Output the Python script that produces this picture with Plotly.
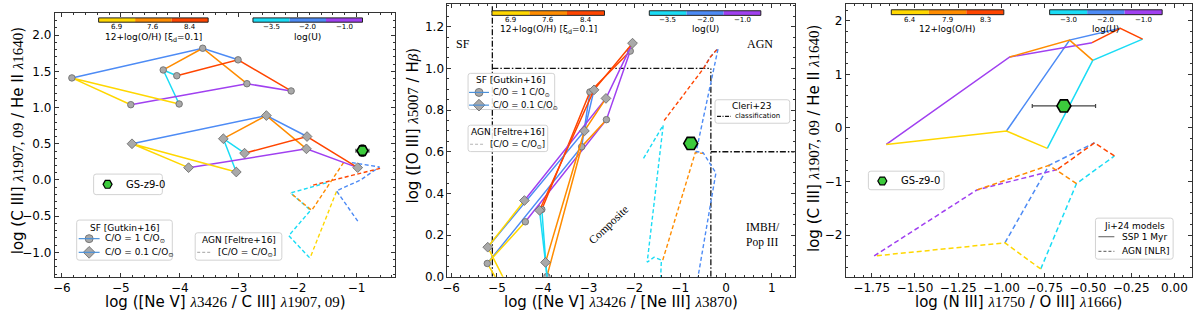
import plotly.graph_objects as go

W, H = 1200, 319
SANS = "DejaVu Sans"
SERIF = "Liberation Serif"

# ---------------- colours of the model grids ----------------
Z_COLORS = ["#FFD700", "#FF8C00", "#FF4500"]   # 12+log(O/H): low, mid, high
U_COLORS = ["#1ADCF5", "#4D8BF5", "#A040F0"]   # log(U): low, mid, high

# ---------------- data ----------------
# Gutkin+16 SF grids. rows: 12+log(O/H) = 6.9, 7.6, 8.4 ; columns: log(U) = -3.5, -2.0, -1.0
OH_LABELS_SF = ["6.9", "7.6", "8.4"]
U_LABELS_SF = ["\u22123.5", "\u22122.0", "\u22121.0"]

# Panel 1: x = log([NeV]/CIII]), y = log(CIII]/HeII)
p1_co1_x = [[-4.01, -5.83, -4.83], [-4.28, -3.61, -2.86], [-4.05, -3.01, -2.11]]
p1_co1_y = [[1.05, 1.41, 1.04], [1.52, 1.82, 1.33], [1.44, 1.66, 1.23]]
p1_co01_x = [[-3.04, -4.81, -3.85], [-3.26, -2.53, -1.85], [-2.90, -1.84, -0.98]]
p1_co01_y = [[0.11, 0.50, 0.17], [0.57, 0.89, 0.43], [0.37, 0.60, 0.17]]

# Feltre+16 AGN tracks, panel 1
p1_agn_red_x = [-0.60, -1.78]
p1_agn_red_y = [0.16, -0.08]
p1_agn_cyan_x = [-1.51, -2.12, -1.78, -2.15, -1.79]
p1_agn_cyan_y = [-0.04, -0.18, -0.42, -0.77, -1.08]
p1_agn_orange_x = [-1.22, -1.76, -2.12]
p1_agn_orange_y = [0.24, -0.42, -0.18]
p1_agn_yellow_x = [-1.34, -1.79]
p1_agn_yellow_y = [-0.16, -1.08]
p1_agn_blue_x = [-1.08, -0.61, -0.93, -1.34, -0.97]
p1_agn_blue_y = [0.24, 0.18, 0.00, -0.15, -0.58]

# Panel 2: x = log([NeV]/[NeIII]), y = log([OIII]/Hb)
p2_co1_x = [[-3.70, -5.21, -4.38], [-3.91, -3.15, -2.61], [-4.02, -2.97, -2.09]]
p2_co1_y = [[-0.50, 0.064, 0.264], [0.001, 0.624, 0.754], [0.323, 0.887, 1.083]]
p2_co01_x = [[-3.62, -5.20, -4.40], [-3.94, -3.09, -2.62], [-4.07, -2.88, -2.04]]
p2_co01_y = [[-0.54, 0.142, 0.366], [0.069, 0.700, 0.856], [0.319, 0.897, 1.121]]

p2_agn_red_x = [-1.35, -0.49, -0.34, -0.17]
p2_agn_red_y = [0.75, 1.00, 1.055, 1.097]
p2_agn_cyan_x = [-1.80, -1.37, -1.72, -1.57, -1.41, -1.44]
p2_agn_cyan_y = [0.568, 0.728, 0.070, 0.094, 0.080, -0.08]
p2_agn_orange_x = [-1.38, -0.67, -0.50]
p2_agn_orange_y = [0.080, 0.596, 0.592]
p2_agn_blue_x = [-0.49, -0.34, -0.17, -0.65, -0.50, -0.22, -0.61, -0.65]
p2_agn_blue_y = [1.00, 1.055, 1.097, 0.601, 0.596, 0.498, 0.0, -0.08]

# Cleri+23 classification boundaries
cleri_sf_x = -5.1
cleri_agn_x = -0.33
cleri_agn_y = 1.0
cleri_imbh_y = 0.6

# Panel 3: Ji+24 models. rows: 12+log(O/H) = 6.4, 7.9, 8.3 ; columns: log(U) = -3.0, -2.0, -1.0
OH_LABELS_JI = ["6.4", "7.9", "8.3"]
U_LABELS_JI = ["\u22123.0", "\u22122.0", "\u22121.0"]
p3_ssp_x = [[-0.735, -0.971, -1.666], [-0.472, -0.606, -0.952], [-0.184, -0.313, -0.476]]
p3_ssp_y = [[-0.382, -0.058, -0.309], [1.262, 1.640, 1.324], [1.658, 1.859, 1.591]]
p3_agn_x = [[-0.773, -0.980, -1.736], [-0.566, -0.725, -1.143], [-0.347, -0.462, -0.677]]
p3_agn_y = [[-2.634, -2.146, -2.391], [-1.039, -0.698, -1.160], [-0.524, -0.278, -0.776]]

# GS-z9-0 measurements
gs_p1 = dict(x=-0.90, y=0.405, ex=0.11, ey=0.08)
gs_p2 = dict(x=-0.77, y=0.640)
gs_p3 = dict(x=-0.639, y=0.411, ex=0.183, ey=0.08)

# ---------------- figure ----------------
fig = go.Figure()
AX1, AX2, AX3, AXO = ("x", "y"), ("x2", "y2"), ("x3", "y3"), ("x4", "y4")
DASH = "4px,2.5px"


def line_tr(x, y, color, ax, dash="solid", width=1.5):
    fig.add_trace(go.Scatter(x=x, y=y, mode="lines", line=dict(color=color, width=width, dash=dash),
                             xaxis=ax[0], yaxis=ax[1], showlegend=False, hoverinfo="skip"))


def grid(xg, yg, ax, dash="solid", symbol=None, size=6):
    for j in range(3):
        line_tr([xg[i][j] for i in range(3)], [yg[i][j] for i in range(3)], U_COLORS[j], ax, dash)
    for i in range(3):
        line_tr(xg[i], yg[i], Z_COLORS[i], ax, dash)
    if symbol:
        fig.add_trace(go.Scatter(x=[v for r in xg for v in r], y=[v for r in yg for v in r], mode="markers",
                                 marker=dict(symbol=symbol, size=size, color="#a9a9a9",
                                             line=dict(color="#6f6f6f", width=0.9)),
                                 xaxis=ax[0], yaxis=ax[1], showlegend=False, hoverinfo="skip"))


def gs_marker(d, ax, size=13):
    kw = {}
    if "ex" in d:
        kw["error_x"] = dict(type="data", array=[d["ex"]], color="#444", thickness=1.2, width=2)
        kw["error_y"] = dict(type="data", array=[d["ey"]], color="#444", thickness=1.2, width=2)
    fig.add_trace(go.Scatter(x=[d["x"]], y=[d["y"]], mode="markers",
                             marker=dict(symbol="hexagon2", size=size, color="#3CCB3C",
                                         line=dict(color="black", width=1.6)),
                             xaxis=ax[0], yaxis=ax[1], showlegend=False, hoverinfo="skip", **kw))


# Panel 1
for cx, cy, col in [(p1_agn_yellow_x, p1_agn_yellow_y, Z_COLORS[0]), (p1_agn_cyan_x, p1_agn_cyan_y, U_COLORS[0]),
                    (p1_agn_orange_x, p1_agn_orange_y, Z_COLORS[1]), (p1_agn_blue_x, p1_agn_blue_y, U_COLORS[1]),
                    (p1_agn_red_x, p1_agn_red_y, Z_COLORS[2])]:
    line_tr(cx, cy, col, AX1, DASH, 1.4)
grid(p1_co1_x, p1_co1_y, AX1, symbol="circle", size=6.5)
grid(p1_co01_x, p1_co01_y, AX1, symbol="diamond", size=7.5)
gs_marker(gs_p1, AX1, 11)

# Panel 2
p2_xr = [-6.08, 1.50]
p2_yr = [0.0, 1.308]
K = "#111111"
DD = "6px,2px,1.5px,2px"
line_tr([cleri_sf_x, cleri_sf_x], p2_yr, K, AX2, DD, 1.3)
line_tr([cleri_sf_x, cleri_agn_x], [cleri_agn_y, cleri_agn_y], K, AX2, DD, 1.3)
line_tr([cleri_agn_x, cleri_agn_x], [p2_yr[0], cleri_agn_y], K, AX2, DD, 1.3)
line_tr([cleri_agn_x, p2_xr[1]], [cleri_imbh_y, cleri_imbh_y], K, AX2, DD, 1.3)
for cx, cy, col in [(p2_agn_cyan_x, p2_agn_cyan_y, U_COLORS[0]), (p2_agn_orange_x, p2_agn_orange_y, Z_COLORS[1]),
                    (p2_agn_blue_x, p2_agn_blue_y, U_COLORS[1]), (p2_agn_red_x, p2_agn_red_y, Z_COLORS[2])]:
    line_tr(cx, cy, col, AX2, DASH, 1.4)
grid(p2_co1_x, p2_co1_y, AX2, symbol="circle", size=6.5)
grid(p2_co01_x, p2_co01_y, AX2, symbol="diamond", size=7.5)
gs_marker(gs_p2, AX2, 14)

# Panel 3
grid(p3_agn_x, p3_agn_y, AX3, dash="5px,3px")
grid(p3_ssp_x, p3_ssp_y, AX3)
gs_marker(gs_p3, AX3, 14)

# ---------------- decorations (pixel coordinates on an invisible overlay axis) ----------------
shapes, annotations = [], []


def txt(x, y, s, size=9, xanchor="center", family=SANS, angle=0, color="black", align="center"):
    annotations.append(dict(x=x, y=y, xref="x4", yref="y4", text=s, showarrow=False, xanchor=xanchor,
                            yanchor="middle", textangle=angle, align=align, borderpad=0,
                            font=dict(size=size, family=family, color=color)))


def box(x0, y0, x1, y1, r=2.5):
    p = (f"M{x0+r},{y0} L{x1-r},{y0} Q{x1},{y0} {x1},{y0+r} L{x1},{y1-r} Q{x1},{y1} {x1-r},{y1} "
         f"L{x0+r},{y1} Q{x0},{y1} {x0},{y1-r} L{x0},{y0+r} Q{x0},{y0} {x0+r},{y0} Z")
    shapes.append(dict(type="path", xref="x4", yref="y4", path=p, fillcolor="rgba(255,255,255,0.85)",
                       line=dict(color="#d2d2d2", width=1), layer="below"))


def seg(x0, x1, y, color, dash="solid", width=1.2):
    shapes.append(dict(type="line", xref="x4", yref="y4", x0=x0, x1=x1, y0=y, y1=y,
                       line=dict(color=color, width=width, dash=dash), layer="above"))


def sample_marker(x, y, symbol, size, color, lcolor, lw):
    fig.add_trace(go.Scatter(x=[x], y=[y], mode="markers", xaxis="x4", yaxis="y4", showlegend=False,
                             hoverinfo="skip", cliponaxis=False,
                             marker=dict(symbol=symbol, size=size, color=color, line=dict(color=lcolor, width=lw))))


def cbar(x0, x1, y0, y1, colors, labels, title, lab_y, title_y):
    w = (x1 - x0) / len(colors)
    for k, c in enumerate(colors):
        shapes.append(dict(type="rect", xref="x4", yref="y4", x0=x0 + k * w, x1=x0 + (k + 1) * w, y0=y0, y1=y1,
                           fillcolor=c, line=dict(width=0), layer="above"))
        txt(x0 + (k + 0.5) * w, lab_y, labels[k], size=7)
    shapes.append(dict(type="rect", xref="x4", yref="y4", x0=x0, x1=x1, y0=y0, y1=y1,
                       line=dict(color="#222", width=1), layer="above"))
    txt((x0 + x1) / 2, title_y, title, size=9)


SUN = "<sub>\u2299</sub>"
XI = "12+log(O/H) [\u03be<sub>d</sub>=0.1]"

# panel 1 colour keys & legends
cbar(94, 204, 18.3, 22.7, Z_COLORS, OH_LABELS_SF, XI, 27.5, 38)
cbar(249, 359, 18.3, 22.7, U_COLORS, U_LABELS_SF, "log(U)", 27.5, 38)
box(89, 178, 158, 199)
sample_marker(103, 188.5, "hexagon2", 9, "#3CCB3C", "black", 1.2)
txt(120, 188.5, "GS-z9-0", 10, "left")
box(72, 225, 168, 266)
txt(120, 233, "SF [Gutkin+16]", 9)
seg(74, 95, 244, "#4a90d9")
seg(74, 95, 258, "#4a90d9")
sample_marker(84.5, 244, "circle", 8, "#a9a9a9", "#6f6f6f", 0.9)
sample_marker(84.5, 258, "diamond", 9, "#a9a9a9", "#6f6f6f", 0.9)
txt(99, 244, "C/O = 1 C/O" + SUN, 9, "left")
txt(99, 258, "C/O = 0.1 C/O" + SUN, 9, "left")
box(191, 238, 278, 266)
txt(234.5, 245, "AGN [Feltre+16]", 9)
seg(193, 208, 258, "#b5b5b5", "3px,2px")
txt(213, 258, "[C/O = C/O" + SUN + "]", 9, "left")

# panel 2 colour keys, legends & region labels
cbar(489, 602, 11, 15.7, Z_COLORS, OH_LABELS_SF, XI, 20.7, 30)
cbar(647, 759, 11, 15.7, U_COLORS, U_LABELS_SF, "log(U)", 20.7, 30)
box(465, 75, 552, 112)
txt(508, 81.5, "SF [Gutkin+16]", 9)
seg(466, 486, 94.5, "#4a90d9")
seg(466, 486, 107.5, "#4a90d9")
sample_marker(476, 94.5, "circle", 8, "#a9a9a9", "#6f6f6f", 0.9)
sample_marker(476, 107.5, "diamond", 9, "#a9a9a9", "#6f6f6f", 0.9)
txt(489, 94.5, "C/O = 1 C/O" + SUN, 8.5, "left")
txt(489, 107.5, "C/O = 0.1 C/O" + SUN, 8.5, "left")
box(465, 128, 545, 155)
txt(505, 135, "AGN [Feltre+16]", 9)
seg(467, 482, 147.5, "#b5b5b5", "3px,2px")
txt(486, 147.5, "[C/O = C/O" + SUN + "]", 8.5, "left")
box(713, 102, 788, 126)
txt(750, 108.5, "Cleri+23", 9)
seg(715, 729, 119, "#111", "4px,1.5px,1px,1.5px")
txt(732, 119, "classification", 7, "left")
txt(460, 45, "SF", 12, family=SERIF)
txt(758, 45, "AGN", 12, family=SERIF)
txt(607, 230, "Composite", 11.5, family=SERIF, angle=-44)
txt(743, 240, "IMBH/<br>Pop III", 11.5, "left", family=SERIF, align="left")

# panel 3 colour keys & legends
cbar(890, 1003, 10, 15, Z_COLORS, OH_LABELS_JI, "12+log(O/H)", 20, 30)
cbar(1049, 1162, 10, 15, U_COLORS, U_LABELS_JI, "log(U)", 20, 30)
box(867, 175, 943, 194)
sample_marker(881, 185, "hexagon2", 9, "#3CCB3C", "black", 1.2)
txt(899, 185, "GS-z9-0", 10, "left")
box(1095, 223, 1173, 265)
txt(1134, 231, "Ji+24 models", 9)
seg(1098, 1114, 242, "#777")
seg(1098, 1114, 257, "#777", "3px,2px")
txt(1121, 242, "SSP 1 Myr", 9, "left")
txt(1121, 257, "AGN [NLR]", 9, "left")


# axis titles
def lam(n):
    return f'<span style="font-family:{SERIF}"><i>\u03bb</i>{n}</span>'


TS = 15
txt(221, 308.5, f"log ([Ne V] {lam('3426')} / C III] {lam('1907, 09')})", TS)
txt(618.6, 308.5, f"log ([Ne V] {lam('3426')} / [Ne III] {lam('3870')})", TS)
txt(1018, 308.5, f"log (N III] {lam('1750')} / O III] {lam('1666')})", TS)
txt(12.5, 144, f"log (C III] {lam('1907, 09')} / He II {lam('1640')})", TS, angle=-90)
txt(410, 128, f'log ([O III] {lam("5007")} / H<span style="font-family:{SERIF}"><i>\u03b2</i></span>)', TS, angle=-90)
txt(812.5, 142, f"log (C III] {lam('1907, 09')} / He II {lam('1640')})", TS, angle=-90)


def axis(domain, rng, dtick, fmt, minor, anchor):
    d = dict(domain=domain, range=rng, dtick=dtick, tick0=0, tickformat=fmt, anchor=anchor,
             ticks="inside", ticklen=4, tickwidth=1, tickcolor="#333", showline=True, linecolor="#333",
             linewidth=1, mirror="allticks", showgrid=False, zeroline=False,
             tickfont=dict(family=SANS, size=12, color="black"))
    if minor:
        d["minor"] = dict(dtick=minor, ticks="inside", ticklen=2, tickwidth=0.8, tickcolor="#333", showgrid=False)
    return d


Y1 = [1 - 283 / H, 1 - 13.3 / H]
Y23 = [1 - 283 / H, 1 - 4.3 / H]
fig.update_layout(
    width=W, height=H, autosize=False, margin=dict(l=0, r=0, t=0, b=0, pad=0),
    paper_bgcolor="white", plot_bgcolor="rgba(0,0,0,0)", showlegend=False,
    xaxis=axis([50 / W, 391.7 / W], [-6.12, -0.346], 1, "d", 0.2, "y"),
    yaxis=axis(Y1, [-1.338, 2.307], 0.5, ".1f", 0.1, "x"),
    xaxis2=axis([444.3 / W, 793 / W], p2_xr, 1, "d", 0.2, "y2"),
    yaxis2=axis(Y23, p2_yr, 0.2, ".1f", 0.05, "x2"),
    xaxis3=axis([844.3 / W, 1191.7 / W], [-1.9, 0.1], 0.25, ".2f", 0.05, "y3"),
    yaxis3=axis(Y23, [-2.78, 2.31], 1, "d", 0.2, "x3"),
    xaxis4=dict(domain=[0, 1], range=[0, W], visible=False, anchor="y4", fixedrange=True),
    yaxis4=dict(domain=[0, 1], range=[H, 0], visible=False, anchor="x4", fixedrange=True),
    shapes=shapes, annotations=annotations,
)

fig.write_html("out.html", config={"displayModeBar": False},
               post_script="document.body.style.margin='0';document.body.style.overflow='hidden';")
